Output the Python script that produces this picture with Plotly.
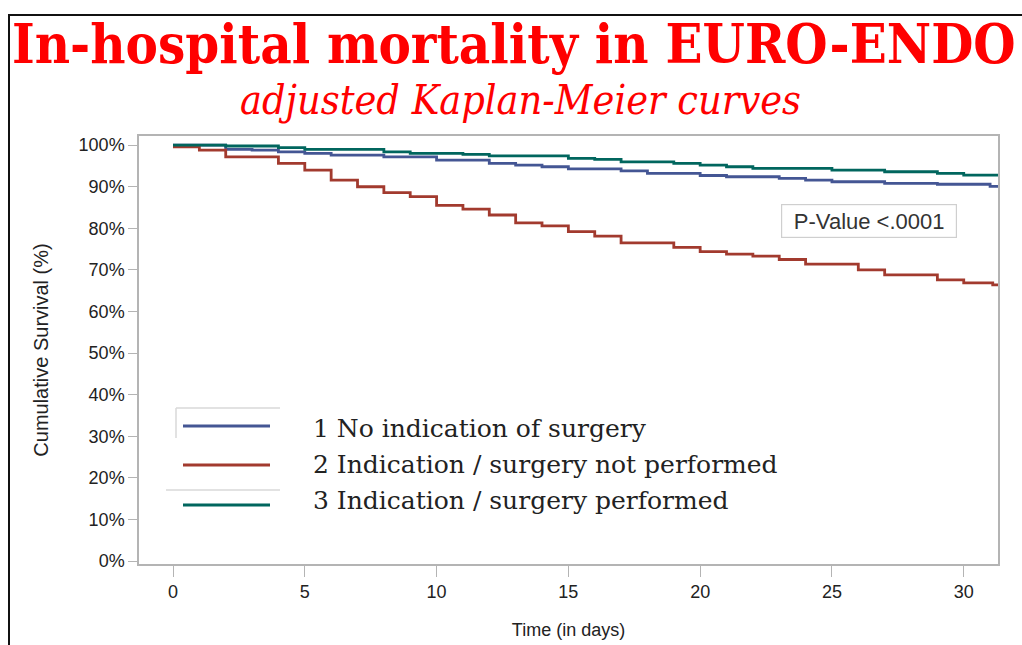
import plotly.graph_objects as go

# ---- data ----
days_no_ind = [0, 2, 3, 4, 5, 6, 8, 10, 12, 13, 14, 15, 17, 18, 20, 21, 23, 24, 25, 27, 29, 31, 31.3]
surv_no_ind = [100.0, 99.0, 98.8, 98.4, 98.0, 97.6, 97.2, 96.4, 95.6, 95.2, 94.8, 94.3, 93.8, 93.2, 92.7, 92.4, 92.0, 91.6, 91.2, 90.8, 90.6, 90.1, 90.1]

days_not_perf = [0, 1, 2, 4, 5, 6, 7, 8, 9, 10, 11, 12, 13, 14, 15, 16, 17, 19, 20, 21, 22, 23, 24, 26, 27, 29, 30, 31.1, 31.3]
surv_not_perf = [99.6, 98.8, 97.2, 95.6, 94.0, 91.6, 90.0, 88.6, 87.6, 85.5, 84.6, 83.2, 81.3, 80.6, 79.2, 78.1, 76.5, 75.4, 74.4, 73.8, 73.3, 72.5, 71.4, 70.0, 68.8, 67.6, 66.9, 66.4, 66.4]

days_perf = [0, 2, 4, 5, 8, 9, 11, 12, 15, 16, 17, 19, 20, 21, 22, 25, 27, 29, 30, 31.3]
surv_perf = [100.0, 99.8, 99.4, 99.0, 98.4, 98.0, 97.8, 97.4, 96.8, 96.6, 96.0, 95.6, 95.2, 94.8, 94.4, 94.0, 93.6, 93.2, 92.8, 92.8]

group_names = ["1 No indication of surgery",
               "2 Indication / surgery not performed",
               "3 Indication / surgery performed"]
group_colors = ["#445694", "#A23A2E", "#01665E"]

x_ticks = [0, 5, 10, 15, 20, 25, 30]
y_ticks = [0, 10, 20, 30, 40, 50, 60, 70, 80, 90, 100]
y_tick_labels = [f"{v}%" for v in y_ticks]

title_text = "In-hospital mortality in EURO-ENDO"
subtitle_text = "adjusted Kaplan-Meier curves"
p_value_text = "P-Value <.0001"

# ---- figure ----
fig = go.Figure()
series = [(days_no_ind, surv_no_ind), (days_not_perf, surv_not_perf), (days_perf, surv_perf)]
for (xs, ys), name, col in zip(series, group_names, group_colors):
    fig.add_trace(go.Scatter(x=xs, y=ys, mode="lines", name=name,
                             line=dict(color=col, width=2.8, shape="hv"),
                             showlegend=False))

axis_col = "#b4b4b4"
sans = "Liberation Sans, Arial"
fig.update_xaxes(range=[-1.29, 31.3], tickvals=x_ticks, ticks="outside", ticklen=11,
                 tickcolor=axis_col, tickwidth=1.3, showline=True, linecolor=axis_col,
                 linewidth=1.5, mirror=True, showgrid=False, zeroline=False,
                 automargin=False,
                 tickfont=dict(family=sans, size=18, color="#222"),
                 title=dict(text="Time (in days)", standoff=22,
                            font=dict(family=sans, size=18, color="#222")))
fig.update_yaxes(range=[-0.72, 102.2], tickvals=y_ticks, ticktext=y_tick_labels,
                 ticks="outside", ticklen=9, tickcolor=axis_col, tickwidth=1.3,
                 showline=True, linecolor=axis_col, linewidth=1.5, mirror=True,
                 showgrid=False, zeroline=False, automargin=False,
                 tickfont=dict(family=sans, size=18, color="#222"),
                 title=dict(text="Cumulative Survival (%)", standoff=25,
                            font=dict(family=sans, size=20, color="#222")))

# page coordinates of the plotting area
L, R, T, B = 139, 998, 136, 564
W, H = 1022, 645
pw, ph = R - L, B - T
def px(x):
    return (x - L) / pw
def py(y):
    return (B - y) / ph

shapes = []
# outer black frame
shapes.append(dict(type="rect", xref="paper", yref="paper", x0=px(9), x1=px(1040),
                   y0=py(680), y1=py(15), line=dict(color="#111", width=2)))
# legend samples
for col, yy in zip(group_colors, [426, 465, 505]):
    shapes.append(dict(type="line", xref="paper", yref="paper", x0=px(183), x1=px(270),
                       y0=py(yy), y1=py(yy), line=dict(color=col, width=3)))
# faint legend frame fragments
gcol = "#d8d8d8"
shapes.append(dict(type="line", xref="paper", yref="paper", x0=px(176), x1=px(176),
                   y0=py(408), y1=py(438), line=dict(color=gcol, width=1.5)))
shapes.append(dict(type="line", xref="paper", yref="paper", x0=px(176), x1=px(280),
                   y0=py(408), y1=py(408), line=dict(color=gcol, width=1.5)))
shapes.append(dict(type="line", xref="paper", yref="paper", x0=px(166), x1=px(280),
                   y0=py(490), y1=py(490), line=dict(color=gcol, width=1.5)))

annotations = []
annotations.append(dict(text="<b>" + title_text + "</b>", xref="paper", yref="paper",
                        x=px(514), y=py(44), xanchor="center", yanchor="middle",
                        showarrow=False,
                        font=dict(family="DejaVu Serif Condensed, DejaVu Serif", size=54, color="#ff0000")))
annotations.append(dict(text="<i>" + subtitle_text + "</i>", xref="paper", yref="paper",
                        x=px(520), y=py(100), xanchor="center", yanchor="middle",
                        showarrow=False,
                        font=dict(family="DejaVu Serif Condensed, DejaVu Serif", size=41, color="#ff0000")))
for name, yy in zip(group_names, [428, 464, 500]):
    annotations.append(dict(text=name, xref="paper", yref="paper", x=px(311), y=py(yy),
                            xanchor="left", yanchor="middle", showarrow=False,
                            font=dict(family="DejaVu Serif", size=25, color="#222")))
annotations.append(dict(text=p_value_text, xref="paper", yref="paper", x=px(869), y=py(221),
                        xanchor="center", yanchor="middle", showarrow=False,
                        width=168, height=26,
                        bordercolor="#cfcfcf", borderwidth=1.2, borderpad=3, bgcolor="white",
                        font=dict(family=sans, size=22, color="#333")))

fig.update_layout(width=W, height=H,
                  margin=dict(l=L, r=W - R, t=T, b=H - B),
                  paper_bgcolor="white", plot_bgcolor="white",
                  shapes=shapes, annotations=annotations)

fig.write_html("out.html", config={"displayModeBar": False},
               post_script="document.body.style.margin='0';document.body.style.overflow='hidden';")
